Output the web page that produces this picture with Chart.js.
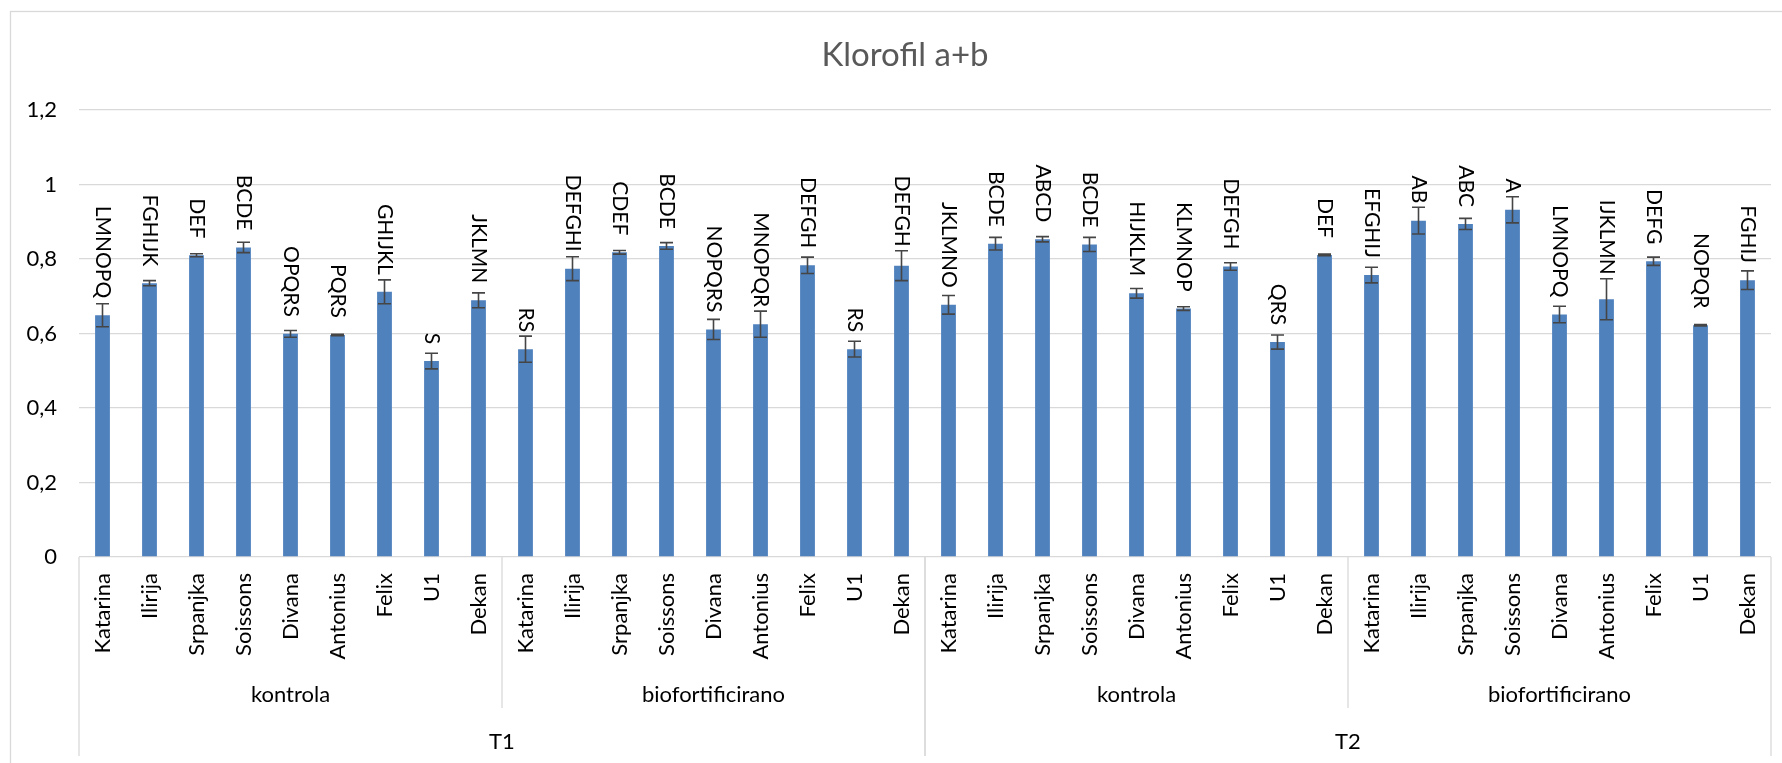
<!DOCTYPE html>
<html>
<head>
<meta charset="utf-8">
<script src="https://cdn.jsdelivr.net/npm/chart.js@4"></script>
<style>
    html, body { margin: 0; padding: 0; background: #fff; }
    #wrap { width: 1782px; height: 763px; }
</style>
</head>
<body>
<div id="wrap"><canvas id="chlorophyllChart" width="1782" height="763"></canvas></div>
<script>
// data
const cultivars = ["Katarina", "Ilirija", "Srpanjka", "Soissons", "Divana", "Antonius", "Felix", "U1", "Dekan"];
const treatments = ["kontrola", "biofortificirano"];
const periods = ["T1", "T2"];

const chlorophyll = [
    0.649, 0.735, 0.810, 0.831, 0.599, 0.596, 0.712, 0.526, 0.689,
    0.558, 0.774, 0.818, 0.835, 0.611, 0.625, 0.783, 0.558, 0.782,
    0.677, 0.841, 0.853, 0.839, 0.708, 0.667, 0.780, 0.577, 0.811,
    0.757, 0.903, 0.894, 0.932, 0.651, 0.692, 0.794, 0.622, 0.743
];

const stdErrors = [
    0.031, 0.007, 0.004, 0.014, 0.009, 0.002, 0.032, 0.021, 0.020,
    0.035, 0.032, 0.005, 0.009, 0.027, 0.035, 0.022, 0.021, 0.040,
    0.025, 0.017, 0.007, 0.019, 0.013, 0.005, 0.010, 0.019, 0.002,
    0.021, 0.036, 0.015, 0.035, 0.022, 0.055, 0.011, 0.002, 0.025
];

const letters = [
    "LMNOPQ", "FGHIJK", "DEF", "BCDE", "OPQRS", "PQRS", "GHIJKL", "S", "JKLMN",
    "RS", "DEFGHI", "CDEF", "BCDE", "NOPQRS", "MNOPQR", "DEFGH", "RS", "DEFGH",
    "JKLMNO", "BCDE", "ABCD", "BCDE", "HIJKLM", "KLMNOP", "DEFGH", "QRS", "DEF",
    "EFGHIJ", "AB", "ABC", "A", "LMNOPQ", "IJKLMN", "DEFG", "NOPQR", "FGHIJ"
];

const yTicks = [0, 0.2, 0.4, 0.6, 0.8, 1, 1.2];

const labels = [];
periods.forEach(p => treatments.forEach(t => cultivars.forEach(c => labels.push(c))));

const FONT = "Lato, 'Open Sans', sans-serif";
const GRID = "#d9d9d9";

// white background + outer chart frame + title
const frame = {
    id: "frame",
    beforeDraw(chart) {
        const ctx = chart.ctx;
        ctx.save();
        ctx.fillStyle = "#fff";
        ctx.fillRect(0, 0, chart.width, chart.height);
        ctx.strokeStyle = GRID;
        ctx.lineWidth = 1.3;
        ctx.strokeRect(10.5, 11.5, chart.width + 20, chart.height + 20);
        ctx.fillStyle = "#595959";
        ctx.font = "33px " + FONT;
        ctx.textAlign = "center";
        ctx.textBaseline = "middle";
        ctx.fillText("Klorofil a+b", 905, 55);
        ctx.restore();
    }
};

// error bars and significance letters
const barExtras = {
    id: "barExtras",
    afterDatasetsDraw(chart) {
        const ctx = chart.ctx;
        const y = chart.scales.y;
        const bars = chart.getDatasetMeta(0).data;
        ctx.save();
        bars.forEach((bar, i) => {
            const v = chlorophyll[i], e = stdErrors[i];
            const top = y.getPixelForValue(v + e);
            const bot = y.getPixelForValue(v - e);
            ctx.strokeStyle = "#454545";
            ctx.lineWidth = 1.6;
            ctx.beginPath();
            ctx.moveTo(bar.x, top); ctx.lineTo(bar.x, bot);
            ctx.moveTo(bar.x - 6.5, top); ctx.lineTo(bar.x + 6.5, top);
            ctx.moveTo(bar.x - 6.5, bot); ctx.lineTo(bar.x + 6.5, bot);
            ctx.stroke();

            const end = Math.min(bar.y - 17, top - 4);
            ctx.save();
            ctx.translate(bar.x, end);
            ctx.rotate(Math.PI / 2);
            ctx.fillStyle = "#000";
            ctx.font = "21px " + FONT;
            ctx.textAlign = "right";
            ctx.textBaseline = "middle";
            ctx.fillText(letters[i], 0, 0);
            ctx.restore();
        });
        ctx.restore();
    }
};

// three level category axis
const multiAxis = {
    id: "multiAxis",
    afterDraw(chart) {
        const ctx = chart.ctx;
        const x = chart.scales.x;
        const area = chart.chartArea;
        const b = area.bottom;
        const n = cultivars.length;
        const step = x.getPixelForValue(1) - x.getPixelForValue(0);
        const edge = i => x.getPixelForValue(i) - step / 2;

        ctx.save();
        ctx.fillStyle = "#000";
        ctx.font = "22px " + FONT;

        labels.forEach((lab, i) => {
            ctx.save();
            ctx.translate(x.getPixelForValue(i), b + 16);
            ctx.rotate(-Math.PI / 2);
            ctx.textAlign = "right";
            ctx.textBaseline = "middle";
            ctx.fillText(lab, 0, 0);
            ctx.restore();
        });

        ctx.textAlign = "center";
        ctx.textBaseline = "middle";
        ctx.strokeStyle = GRID;
        ctx.lineWidth = 1.3;

        periods.forEach((p, pi) => {
            treatments.forEach((t, ti) => {
                const first = (pi * treatments.length + ti) * n;
                const l = edge(first), r = edge(first + n);
                ctx.fillText(t, (l + r) / 2, b + 138);
                if (ti > 0) {
                    ctx.beginPath();
                    ctx.moveTo(l, b); ctx.lineTo(l, b + 151);
                    ctx.stroke();
                }
            });
            const first = pi * treatments.length * n;
            const l = edge(first), r = edge(first + treatments.length * n);
            ctx.fillText(p, (l + r) / 2, b + 185);
            ctx.beginPath();
            ctx.moveTo(l, b); ctx.lineTo(l, b + 199);
            ctx.moveTo(r, b); ctx.lineTo(r, b + 199);
            ctx.stroke();
        });
        ctx.restore();
    }
};

new Chart(document.getElementById("chlorophyllChart").getContext("2d"), {
    type: "bar",
    data: {
        labels: labels,
        datasets: [{
            label: "Klorofil a+b",
            data: chlorophyll,
            backgroundColor: "#4f81bd",
            borderWidth: 0,
            categoryPercentage: 1,
            barPercentage: 0.315
        }]
    },
    options: {
        responsive: false,
        animation: false,
        devicePixelRatio: 1,
        layout: { padding: { left: 10, top: 110, right: 11, bottom: 206 } },
        plugins: {
            legend: { display: false },
            title: { display: false },
            tooltip: { enabled: false }
        },
        scales: {
            x: { display: false },
            y: {
                min: 0,
                max: 1.2,
                afterFit: s => { s.width = 69; },
                afterBuildTicks: s => { s.ticks = yTicks.map(v => ({ value: v })); },
                border: { display: false },
                grid: { color: GRID, lineWidth: 1.3, drawTicks: false },
                ticks: {
                    padding: 22,
                    color: "#000",
                    font: { family: FONT, size: 22 },
                    callback: v => String(+v.toFixed(1)).replace(".", ",")
                }
            }
        }
    },
    plugins: [frame, barExtras, multiAxis]
});
</script>
</body>
</html>
